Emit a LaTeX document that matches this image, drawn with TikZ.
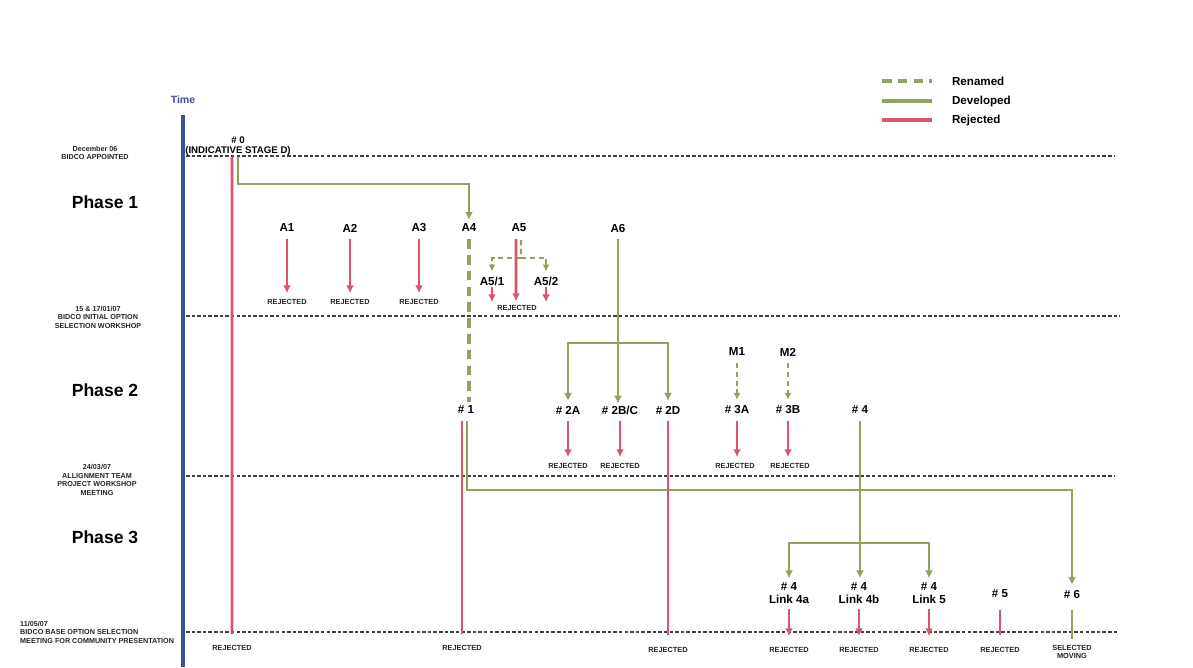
\documentclass[tikz,border=0pt]{standalone}
\usepackage{fontspec}
\setmainfont{Liberation Sans}
\usetikzlibrary{arrows.meta}
\definecolor{myred}{HTML}{D9546C}
\definecolor{mygreen}{HTML}{8DA45C}
\definecolor{myblue}{HTML}{3D4E9E}
\tikzset{
  lbl/.style={font=\bfseries\fontsize{6.6}{7.4}\selectfont, inner sep=1pt, align=center},
  rej/.style={font=\bfseries\fontsize{4.2}{5}\selectfont, inner sep=0.5pt, text=black!85, align=center},
  phase/.style={font=\bfseries\fontsize{10}{12}\selectfont},
  datel/.style={font=\bfseries\fontsize{4.1}{4.8}\selectfont, align=center, text=black!85},
  redl/.style={draw=myred, line width=1.6pt},
  redarr/.style={redl, -{Latex[length=4.5pt,width=4.5pt]}},
  grn/.style={draw=mygreen, line width=1.3pt},
  grnarr/.style={grn, -{Latex[length=4.5pt,width=4.5pt]}},
  ren/.style={draw=mygreen, line width=2.4pt, dash pattern=on 5.5pt off 3.5pt},
  renarr/.style={draw=mygreen, line width=1.2pt, dash pattern=on 3pt off 2pt, -{Latex[length=4pt,width=4pt]}},
  tline/.style={draw=black!75, dash pattern=on 2pt off 1.2pt, line width=0.6pt},
}
\begin{document}
\begin{tikzpicture}[x=0.02cm, y=-0.02cm]
\fill[white] (0,0) rectangle (1193,667);
\useasboundingbox (0,0) rectangle (1193,667);

% time axis
\node[font=\bfseries\fontsize{6}{7}\selectfont, text=myblue] (time) at (183,100) {Time};
\coordinate (axb) at (183,667);
\draw[myblue, line width=2pt] ([yshift=-0.1cm]time.south) -- (axb);

% milestone lines
\coordinate (m1a) at (186,156); \coordinate (m1b) at (1115,156);
\coordinate (m2a) at (186,316); \coordinate (m2b) at (1120,316);
\coordinate (m3a) at (186,476); \coordinate (m3b) at (1115,476);
\coordinate (m4a) at (186,632); \coordinate (m4b) at (1118,632);
\draw[tline] (m1a) -- (m1b);
\draw[tline] (m2a) -- (m2b);
\draw[tline] (m3a) -- (m3b);
\draw[tline] (m4a) -- (m4b);

% left labels
\node[datel] (d1) at (95,153) {December 06\\BIDCO APPOINTED};
\node[datel] (d2) at (98,317) {15 \& 17/01/07\\BIDCO INITIAL OPTION\\SELECTION WORKSHOP};
\node[datel] (d3) at (97,480) {24/03/07\\ALLIGNMENT TEAM\\PROJECT WORKSHOP\\MEETING};
\node[datel, align=left, anchor=west] (d4) at (14,632) {11/05/07\\BIDCO BASE OPTION SELECTION\\MEETING FOR COMMUNITY PRESENTATION};
\node[phase] (p1) at (105,202) {Phase 1};
\node[phase] (p2) at (105,390) {Phase 2};
\node[phase] (p3) at (105,537) {Phase 3};

% legend
\node[lbl, anchor=west] (lg1) at (950,81) {Renamed};
\node[lbl, anchor=west] (lg2) at (950,101) {Developed};
\node[lbl, anchor=west] (lg3) at (950,120) {Rejected};
\coordinate (lg1s) at (882,81);
\coordinate (lg2s) at (882,101);
\coordinate (lg3s) at (882,120);
\draw[ren] (lg1s) -- ([xshift=-0.36cm]lg1.west);
\draw[grn, line width=1.8pt] (lg2s) -- ([xshift=-0.36cm]lg2.west);
\draw[redl, line width=2pt] (lg3s) -- ([xshift=-0.36cm]lg3.west);

% Phase 1 options
\node[lbl] (A1) at (287,228) {A1};
\node[lbl] (A2) at (350,228) {A2};
\node[lbl] (A3) at (419,228) {A3};
\node[lbl] (A4) at (469,228) {A4};
\node[lbl] (A5) at (519,228) {A5};
\node[lbl] (A6) at (618,228) {A6};

% #0
\node[font=\bfseries\fontsize{5.5}{6}\selectfont, inner sep=0.5pt, align=center] (n0) at (238,146) {\# 0\\(INDICATIVE STAGE D)};
\node[rej] (r0) at (232,648) {REJECTED};
\draw[redl] ([xshift=-0.12cm]n0.south) -- ([yshift=0.2cm]r0.north);
\draw[grnarr] (n0.south) -- ++(0,27) -| ([yshift=0.04cm]A4.north);

\node[rej] (rA1) at (287,302) {REJECTED};
\node[rej] (rA2) at (350,302) {REJECTED};
\node[rej] (rA3) at (419,302) {REJECTED};
\node[rej] (rA5) at (517,308) {REJECTED};
\draw[redarr, shorten <=0.1cm, shorten >=0.1cm] (A1.south) -- (rA1.north);
\draw[redarr, shorten <=0.1cm, shorten >=0.1cm] (A2.south) -- (rA2.north);
\draw[redarr, shorten <=0.1cm, shorten >=0.1cm] (A3.south) -- (rA3.north);

\node[lbl] (A51) at (492,281) {A5/1};
\node[lbl] (A52) at (546,281) {A5/2};
\coordinate (j5) at (521,258);
\draw[renarr] (j5) -| ([yshift=0.06cm]A51.north);
\draw[renarr] (j5) -| ([yshift=0.06cm]A52.north);
\draw[grn, line width=1.2pt, dash pattern=on 3pt off 2pt] ([xshift=0.04cm, yshift=-0.12cm]A5.south) -- (j5);
\draw[redarr, shorten <=0.1cm] ([xshift=-0.06cm]A5.south) -- ([xshift=-0.02cm, yshift=0.06cm]rA5.north);
\draw[redarr] (A51.south) -- ([yshift=0.04cm]A51.south |- rA5.north);
\draw[redarr] (A52.south) -- ([yshift=0.04cm]A52.south |- rA5.north);

% Phase 2 options
\node[lbl] (h1) at (466,410) {\# 1};
\node[lbl] (h2A) at (568,410) {\# 2A};
\node[lbl] (h2B) at (620,410) {\# 2B/C};
\node[lbl] (h2D) at (668,410) {\# 2D};
\node[lbl] (M1) at (737,352) {M1};
\node[lbl] (M2) at (788,352) {M2};
\node[lbl] (h3A) at (737,410) {\# 3A};
\node[lbl] (h3B) at (788,410) {\# 3B};
\node[lbl] (h4) at (860,410) {\# 4};

\draw[ren, shorten <=0.1cm, shorten >=0.04cm] (A4.south) -- (A4.south |- h1.north);

\coordinate (j6) at (618,343);
\draw[grnarr, shorten <=0.1cm] (A6.south) -- (A6.south |- h2B.north);
\draw[grnarr] (j6) -| ([yshift=0.06cm]h2A.north);
\draw[grnarr] (j6) -| ([yshift=0.06cm]h2D.north);
\draw[renarr, shorten <=0.1cm] (M1.south) -- ([yshift=0.08cm]h3A.north);
\draw[renarr, shorten <=0.1cm] (M2.south) -- ([yshift=0.08cm]h3B.north);

\node[rej] (r2A) at (568,466) {REJECTED};
\node[rej] (r2B) at (620,466) {REJECTED};
\node[rej] (r3A) at (735,466) {REJECTED};
\node[rej] (r3B) at (790,466) {REJECTED};
\draw[redarr, shorten <=0.1cm, shorten >=0.1cm] (h2A.south) -- (r2A.north);
\draw[redarr, shorten <=0.1cm, shorten >=0.1cm] (h2B.south) -- (h2B.south |- r2B.north);
\draw[redarr, shorten <=0.1cm, shorten >=0.1cm] (h3A.south) -- (h3A.south |- r3A.north);
\draw[redarr, shorten <=0.1cm, shorten >=0.1cm] (h3B.south) -- (h3B.south |- r3B.north);

% Phase 3
\node[lbl] (l4a) at (789,593) {\# 4\\Link 4a};
\node[lbl] (l4b) at (859,593) {\# 4\\Link 4b};
\node[lbl] (l5) at (929,593) {\# 4\\Link 5};
\node[lbl] (h5) at (1000,594) {\# 5};
\node[lbl] (h6) at (1072,594) {\# 6};
\coordinate (j4) at (860,543);
\draw[grnarr, shorten <=0.1cm] (h4.south) -- ([yshift=0.04cm]h4.south |- l4b.north);
\draw[grnarr] (j4) -| ([yshift=0.04cm]l4a.north);
\draw[grnarr] (j4) -| ([yshift=0.04cm]l5.north);
\draw[grnarr, shorten <=0.1cm] ([xshift=0.02cm]h1.south) -- ++(0,74) -| ([yshift=0.06cm]h6.north);

\node[rej] (r1) at (462,648) {REJECTED};
\node[rej] (r2D) at (668,650) {REJECTED};
\node[rej] (r4a) at (789,650) {REJECTED};
\node[rej] (r4b) at (859,650) {REJECTED};
\node[rej] (r5l) at (929,650) {REJECTED};
\node[rej] (r5) at (1000,650) {REJECTED};
\node[rej] (s6) at (1072,652) {SELECTED\\MOVING};
\draw[redl, shorten <=0.1cm] ([xshift=-0.08cm]h1.south) -- ([xshift=-0.08cm, yshift=0.2cm]h1.south |- r1.north);
\draw[redl, shorten <=0.1cm] (h2D.south) -- ([yshift=0.22cm]h2D.south |- r2D.north);
\draw[redarr, shorten <=0.06cm] (l4a.south) -- ([yshift=0.2cm]l4a.south |- r4a.north);
\draw[redarr, shorten <=0.06cm] (l4b.south) -- ([yshift=0.2cm]l4b.south |- r4b.north);
\draw[redarr, shorten <=0.06cm] (l5.south) -- ([yshift=0.2cm]l5.south |- r5l.north);
\draw[redl, shorten <=0.2cm] (h5.south) -- ([yshift=0.22cm]h5.south |- r5.north);
\draw[grn, shorten <=0.2cm] (h6.south) -- ([yshift=0.1cm]h6.south |- s6.north);
\end{tikzpicture}
\end{document}
